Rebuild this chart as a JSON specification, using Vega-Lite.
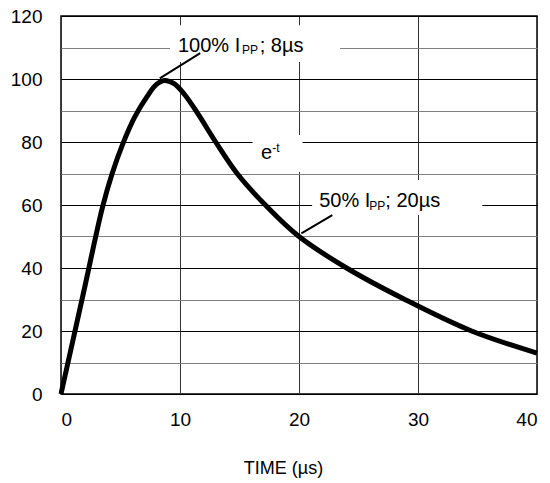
{
  "$schema": "https://vega.github.io/schema/vega-lite/v6.json",
  "width": 476,
  "height": 378,
  "autosize": "none",
  "padding": {"left": 61, "top": 16, "right": 13, "bottom": 89},
  "config": {
    "font": "Liberation Sans",
    "view": {"stroke": "#000", "strokeWidth": 1.5}
  },
  "encoding": {
    "x": {
      "field": "x", "type": "quantitative",
      "scale": {"domain": [0, 40], "nice": false, "zero": false},
      "axis": {
        "values": [0, 10, 20, 30, 40],
        "grid": true, "gridColor": "#333", "gridWidth": 1, "gridOpacity": 1,
        "ticks": false, "domain": false,
        "labelFontSize": 19, "labelColor": "#000", "labelPadding": 16,
        "title": "TIME (µs)", "titleFontSize": 18, "titleFontWeight": "normal", "titleColor": "#000",
        "titleX": 222, "titleY": 79, "titleBaseline": "alphabetic"
      }
    },
    "y": {
      "field": "y", "type": "quantitative",
      "scale": {"domain": [0, 120], "nice": false, "zero": false},
      "axis": {
        "values": [0, 10, 20, 30, 40, 50, 60, 70, 80, 90, 100, 110, 120],
        "labelExpr": "datum.value % 20 === 0 ? datum.label : ''",
        "grid": true, "gridWidth": 1, "gridOpacity": 1,
        "gridColor": {"condition": {"test": "datum.value % 20 === 0", "value": "#000"}, "value": "#808080"},
        "ticks": false, "domain": false,
        "labelFontSize": 19, "labelColor": "#000", "labelPadding": 19,
        "title": null
      }
    }
  },
  "layer": [
    {
      "data": {"values": [
        {"x": 9.16, "x2": 23.45, "y": 105.4, "y2": 117.1},
        {"x": 16.1, "x2": 20.3, "y": 70.5, "y2": 82.2},
        {"x": 21.1, "x2": 35.4, "y": 56.8, "y2": 67.9}
      ]},
      "mark": {"type": "rect", "fill": "#fff", "stroke": null},
      "encoding": {"x2": {"field": "x2"}, "y2": {"field": "y2"}}
    },
    {
      "data": {"values": [
        {"x": 0, "y": 0}, {"x": 1, "y": 17}, {"x": 2, "y": 34}, {"x": 2.8, "y": 48},
        {"x": 3.5, "y": 59.5}, {"x": 4.3, "y": 70}, {"x": 5.2, "y": 79.5}, {"x": 6.2, "y": 88},
        {"x": 7.3, "y": 94.8}, {"x": 8.0, "y": 98.2}, {"x": 8.7, "y": 99.5}, {"x": 9.5, "y": 98.5},
        {"x": 10.4, "y": 95}, {"x": 11.5, "y": 89}, {"x": 13.0, "y": 80}, {"x": 14.8, "y": 70},
        {"x": 17.3, "y": 59.5}, {"x": 20.0, "y": 50}, {"x": 24.0, "y": 40}, {"x": 28.9, "y": 30},
        {"x": 34.5, "y": 20}, {"x": 40, "y": 13}
      ]},
      "mark": {"type": "line", "color": "#000", "strokeWidth": 5, "interpolate": "catmull-rom", "clip": false}
    },
    {
      "data": {"values": [
        {"x": 8.3, "y": 100.2, "x2": 11.7, "y2": 108.2},
        {"x": 20.2, "y": 51, "x2": 22.8, "y2": 56.8}
      ]},
      "mark": {"type": "rule", "color": "#000", "strokeWidth": 2},
      "encoding": {"x2": {"field": "x2"}, "y2": {"field": "y2"}}
    },
    {
      "data": {"values": [
        {"x": 9.83, "y": 108.6, "label": "100% I"},
        {"x": 16.7, "y": 108.6, "label": "; 8µs"},
        {"x": 21.7, "y": 59.4, "label": "50% I"},
        {"x": 27.25, "y": 59.4, "label": "; 20µs"},
        {"x": 16.8, "y": 74.6, "label": "e"}
      ]},
      "mark": {"type": "text", "align": "left", "baseline": "alphabetic", "fontSize": 20, "color": "#000"},
      "encoding": {"text": {"field": "label"}}
    },
    {
      "data": {"values": [
        {"x": 15.2, "y": 107.8, "label": "PP"},
        {"x": 25.9, "y": 58.4, "label": "PP"},
        {"x": 17.75, "y": 76.8, "label": "-t"}
      ]},
      "mark": {"type": "text", "align": "left", "baseline": "alphabetic", "fontSize": 12, "color": "#000"},
      "encoding": {"text": {"field": "label"}}
    }
  ]
}
